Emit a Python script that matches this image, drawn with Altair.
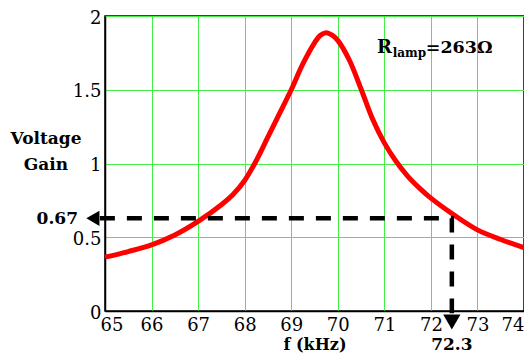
import altair as alt
import pandas as pd

# curve
freq_khz = [65.0, 65.5, 66.0, 66.5, 67.0, 67.5, 67.75, 68.0, 68.25, 68.5, 68.75, 69.0,
            69.25, 69.5, 69.62, 69.75, 69.88, 70.0, 70.25, 70.5, 70.75, 71.0, 71.25,
            71.5, 71.75, 72.0, 72.5, 73.0, 73.5, 74.0]
gain = [0.365, 0.403, 0.448, 0.515, 0.607, 0.72, 0.79, 0.885, 1.02, 1.18, 1.34, 1.50,
        1.675, 1.818, 1.868, 1.887, 1.870, 1.835, 1.70, 1.505, 1.30, 1.14, 1.015,
        0.915, 0.835, 0.765, 0.65, 0.55, 0.485, 0.43]

x_ticks = [65, 66, 67, 68, 69, 70, 71, 72, 73, 74]
y_ticks = [0, 0.5, 1, 1.5, 2]

# marker (as drawn)
mark_f = 72.45
mark_g = 0.628
mark_f_label = "72.3"
mark_g_label = "0.67"

SERIF = "DejaVu Serif"

curve_df = pd.DataFrame({"f": freq_khz, "g": gain})

xs = alt.Scale(domain=[65, 74], nice=False, zero=False)
ys = alt.Scale(domain=[0, 2], nice=False, zero=False)

x_axis = alt.Axis(values=x_ticks, title="f (kHz)", grid=True, gridColor="#44ee44",
                  gridWidth=1, ticks=False, domainColor="black", domainWidth=1.5,
                  labelFont=SERIF, labelFontSize=18, labelColor="black",
                  labelPadding=5, labelFlush=False, labelOverlap=False,
                  labelAlign=alt.expr("datum.value == 65 ? 'left' : datum.value == 74 ? 'right' : 'center'"),
                  labelOffset=alt.expr("datum.value == 65 ? -5 : 0"),
                  titleFont=SERIF, titleFontSize=16, titleFontWeight="bold",
                  titleColor="black", titleBaseline="alphabetic", titleY=38)
y_axis = alt.Axis(values=y_ticks, title=None, format="~g", grid=True,
                  gridColor="#44ee44", gridWidth=1, ticks=False, domainColor="black",
                  domainWidth=1.5, labelFont=SERIF, labelFontSize=18,
                  labelColor="black", labelPadding=4, labelOffset=2,
                  labelFlush=False, labelOverlap=False)

curve = alt.Chart(curve_df).mark_line(color="#ff0000", strokeWidth=5,
                                      interpolate="catmull-rom").encode(
    x=alt.X("f:Q", scale=xs, axis=x_axis),
    y=alt.Y("g:Q", scale=ys, axis=y_axis),
)

dash_df = pd.DataFrame({"f": [64.89, mark_f, mark_f], "g": [mark_g, mark_g, -0.015],
                        "o": [0, 1, 2]})
dashes = alt.Chart(dash_df).mark_line(color="black", strokeWidth=4.5,
                                      strokeDash=[15, 12], clip=False).encode(
    x=alt.X("f:Q", scale=xs), y=alt.Y("g:Q", scale=ys), order="o:Q")

arrow_l = alt.Chart(pd.DataFrame({"f": [64.74], "g": [mark_g]})).mark_point(
    shape="triangle-left", size=230, filled=True, color="black", opacity=1,
    clip=False).encode(x=alt.X("f:Q", scale=xs), y=alt.Y("g:Q", scale=ys))
arrow_d = alt.Chart(pd.DataFrame({"f": [mark_f], "g": [-0.075]})).mark_point(
    shape="triangle-down", size=300, filled=True, color="black", opacity=1,
    clip=False).encode(x=alt.X("f:Q", scale=xs), y=alt.Y("g:Q", scale=ys))

lbl_g = alt.Chart(pd.DataFrame({"f": [64.42], "g": [mark_g], "t": [mark_g_label]})).mark_text(
    font=SERIF, fontSize=17, fontWeight="bold", color="black", align="right",
    baseline="middle", dy=1).encode(x=alt.X("f:Q", scale=xs), y=alt.Y("g:Q", scale=ys), text="t:N")
lbl_f = alt.Chart(pd.DataFrame({"f": [mark_f], "g": [-0.264], "t": [mark_f_label]})).mark_text(
    font=SERIF, fontSize=17, fontWeight="bold", color="black", align="center",
    baseline="alphabetic").encode(x=alt.X("f:Q", scale=xs), y=alt.Y("g:Q", scale=ys), text="t:N")

r_main = alt.Chart(pd.DataFrame({"f": [70.84], "g": [1.749], "t": ["R"]})).mark_text(
    font=SERIF, fontSize=18, fontWeight="bold", color="black", align="left",
    baseline="alphabetic").encode(x=alt.X("f:Q", scale=xs), y=alt.Y("g:Q", scale=ys), text="t:N")
r_sub = alt.Chart(pd.DataFrame({"f": [71.18], "g": [1.722], "t": ["lamp"]})).mark_text(
    font=SERIF, fontSize=12, fontWeight="bold", color="black", align="left",
    baseline="alphabetic").encode(x=alt.X("f:Q", scale=xs), y=alt.Y("g:Q", scale=ys), text="t:N")
r_val = alt.Chart(pd.DataFrame({"f": [71.89], "g": [1.749], "t": ["=263Ω"]})).mark_text(
    font=SERIF, fontSize=17.5, fontWeight="bold", color="black", align="left",
    baseline="alphabetic").encode(x=alt.X("f:Q", scale=xs), y=alt.Y("g:Q", scale=ys), text="t:N")

title1 = alt.Chart(pd.DataFrame({"t": ["Voltage"]})).mark_text(
    font=SERIF, fontSize=17, fontWeight="bold", color="black", align="center",
    baseline="alphabetic").encode(x=alt.value(-59), y=alt.value(128), text="t:N")
title2 = alt.Chart(pd.DataFrame({"t": ["Gain"]})).mark_text(
    font=SERIF, fontSize=17, fontWeight="bold", color="black", align="center",
    baseline="alphabetic").encode(x=alt.value(-59), y=alt.value(154), text="t:N")

chart = alt.layer(curve, dashes, arrow_l, arrow_d, lbl_g, lbl_f, r_main, r_sub, r_val,
                  title1, title2).properties(
    width=419, height=295,
    autosize=alt.AutoSizeParams(type="none"),
    padding={"left": 97, "top": 8, "right": 0, "bottom": 42},
    background="white",
).configure_view(stroke="black", strokeWidth=1.5)

chart.save("out.html", embed_options={"renderer": "svg", "actions": False})
